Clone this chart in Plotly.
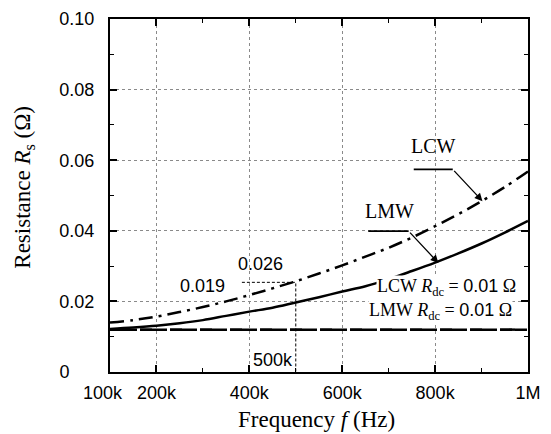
import plotly.graph_objects as go

# ---- data ----
freq_hz = [100e3, 150e3, 200e3, 250e3, 300e3, 350e3, 400e3, 450e3, 500e3, 550e3,
           600e3, 650e3, 700e3, 750e3, 800e3, 850e3, 900e3, 950e3, 1000e3]
rs_lcw = [0.0140, 0.0147, 0.0157, 0.0170, 0.0184, 0.0200, 0.0218, 0.0237, 0.0257, 0.0279,
          0.0302, 0.0327, 0.0352, 0.0381, 0.0413, 0.0447, 0.0484, 0.0524, 0.0568]
rs_lmw = [0.0122, 0.0126, 0.0131, 0.0138, 0.0147, 0.0159, 0.0171, 0.0182, 0.0197, 0.0212,
          0.0228, 0.0243, 0.0263, 0.0286, 0.0310, 0.0336, 0.0364, 0.0395, 0.0428]
rdc_freq = [100e3, 1000e3]
rdc_lcw = [0.012, 0.012]
rdc_lmw = [0.012, 0.012]

x_tickvals = [100e3, 200e3, 400e3, 600e3, 800e3, 1000e3]
x_ticktext = ["100k\u00a0\u00a0\u00a0", "200k", "400k", "600k", "800k", "1M"]
x_minor = [300e3, 500e3, 700e3, 900e3]
y_tickvals = [0, 0.02, 0.04, 0.06, 0.08, 0.10]
y_ticktext = ["0\u00a0\u00a0\u00a0\u00a0\u00a0", "0.02", "0.04", "0.06", "0.08", "0.10"]

# guide (500 kHz read-out)
guide_f = 500e3
guide_f_start = 384e3
guide_lcw = 0.0254
guide_lcw_label = "0.026"
guide_lmw_label = "0.019"

SANS = "Liberation Sans, Arial, sans-serif"
SERIF = "Liberation Serif, Times New Roman, serif"

fig = go.Figure()

fig.add_trace(go.Scatter(x=rdc_freq, y=rdc_lcw, mode="lines",
                         line=dict(color="black", width=2.5, dash="longdash"), hoverinfo="skip"))
fig.add_trace(go.Scatter(x=rdc_freq, y=rdc_lmw, mode="lines",
                         line=dict(color="black", width=2.5, dash="12px,3px"), hoverinfo="skip"))
fig.add_trace(go.Scatter(x=freq_hz, y=rs_lcw, mode="lines",
                         line=dict(color="black", width=2.5, dash="14px,6px,3px,6px", shape="spline"),
                         hoverinfo="skip"))
fig.add_trace(go.Scatter(x=freq_hz, y=rs_lmw, mode="lines",
                         line=dict(color="black", width=2.5, shape="spline"), hoverinfo="skip"))
# guide lines
fig.add_trace(go.Scatter(x=[guide_f_start, guide_f, guide_f], y=[guide_lcw, guide_lcw, 0],
                         mode="lines", line=dict(color="black", width=1, dash="3px,2px"),
                         hoverinfo="skip"))

axis_common = dict(showline=True, linecolor="black", linewidth=2, mirror="ticks",
                   ticks="inside", tickcolor="black", tickwidth=1.5, ticklen=7,
                   showgrid=True, gridcolor="#8a8a8a", gridwidth=1, griddash="dot",
                   zeroline=False, automargin=False, tickangle=0,
                   tickfont=dict(family=SANS, size=18, color="black"))

fig.update_xaxes(range=[100e3, 1000e3], tickmode="array", tickvals=x_tickvals,
                 ticktext=x_ticktext, ticklabelstandoff=3,
                 minor=dict(tickvals=x_minor, ticks="inside", ticklen=4, tickcolor="black",
                            tickwidth=1.2, showgrid=False),
                 **axis_common)
fig.update_yaxes(range=[0, 0.10], tickmode="array", tickvals=y_tickvals,
                 ticktext=y_ticktext, ticklabelstandoff=10,
                 minor=dict(dtick=0.01, ticks="inside", ticklen=4, tickcolor="black",
                            tickwidth=1.2, showgrid=False),
                 **axis_common)

ann = []
# axis titles
ann.append(dict(text="Frequency <i>f</i> (Hz)", xref="paper", yref="paper", x=0.495, y=-0.135,
                xanchor="center", yanchor="middle", showarrow=False,
                font=dict(family=SERIF, size=23, color="black")))
ann.append(dict(text="Resistance <i>R</i><sub>s</sub> (Ω)", xref="paper", yref="paper",
                x=-0.205, y=0.523, xanchor="center", yanchor="middle", textangle=-90,
                showarrow=False, font=dict(family=SERIF, size=23, color="black")))
# curve labels
ann.append(dict(text="LCW", x=796e3, y=0.0641, xref="x", yref="y", showarrow=False,
                font=dict(family=SERIF, size=20, color="black")))
ann.append(dict(text="LMW", x=701e3, y=0.0457, xref="x", yref="y", showarrow=False,
                font=dict(family=SERIF, size=20, color="black")))
# arrows
ann.append(dict(text="", x=902e3, y=0.0484, ax=838e3, ay=0.0574, xref="x", yref="y",
                axref="x", ayref="y", showarrow=True, arrowhead=2, arrowsize=1.2,
                arrowwidth=1.3, arrowcolor="black", standoff=0))
ann.append(dict(text="", x=807e3, y=0.0309, ax=743e3, ay=0.0399, xref="x", yref="y",
                axref="x", ayref="y", showarrow=True, arrowhead=2, arrowsize=1.2,
                arrowwidth=1.3, arrowcolor="black", standoff=0))
# guide labels
ann.append(dict(text=guide_lcw_label, x=425e3, y=0.0307, xref="x", yref="y", showarrow=False,
                font=dict(family=SANS, size=18, color="black")))
ann.append(dict(text=guide_lmw_label, x=299e3, y=0.0243, xref="x", yref="y", showarrow=False,
                font=dict(family=SANS, size=18, color="black")))
ann.append(dict(text="500k", x=450e3, y=0.0035, xref="x", yref="y", showarrow=False,
                font=dict(family=SANS, size=18, color="black")))
# Rdc labels
sans_span = '<span style="font-family:Liberation Sans, Arial, sans-serif">0.01</span>'
ann.append(dict(text=f"LCW <i>R</i><sub>dc</sub> = {sans_span} Ω", x=977e3, y=0.0240,
                xref="x", yref="y", xanchor="right", yanchor="middle", showarrow=False,
                bgcolor="white", borderpad=0,
                font=dict(family=SERIF, size=18, color="black")))
ann.append(dict(text=f"LMW <i>R</i><sub>dc</sub> = {sans_span} Ω", x=967e3, y=0.0171,
                xref="x", yref="y", xanchor="right", yanchor="middle", showarrow=False,
                bgcolor="white", borderpad=0,
                font=dict(family=SERIF, size=18, color="black")))

shapes = [
    dict(type="line", xref="x", yref="y", x0=754e3, y0=0.0574, x1=838e3, y1=0.0574,
         line=dict(color="black", width=1.8)),
    dict(type="line", xref="x", yref="y", x0=656e3, y0=0.0399, x1=743e3, y1=0.0399,
         line=dict(color="black", width=1.8)),
]

fig.update_layout(width=551, height=434, margin=dict(l=110, r=23, t=19, b=62),
                  paper_bgcolor="white", plot_bgcolor="white", showlegend=False,
                  annotations=ann, shapes=shapes)

fig.write_html("out.html")
